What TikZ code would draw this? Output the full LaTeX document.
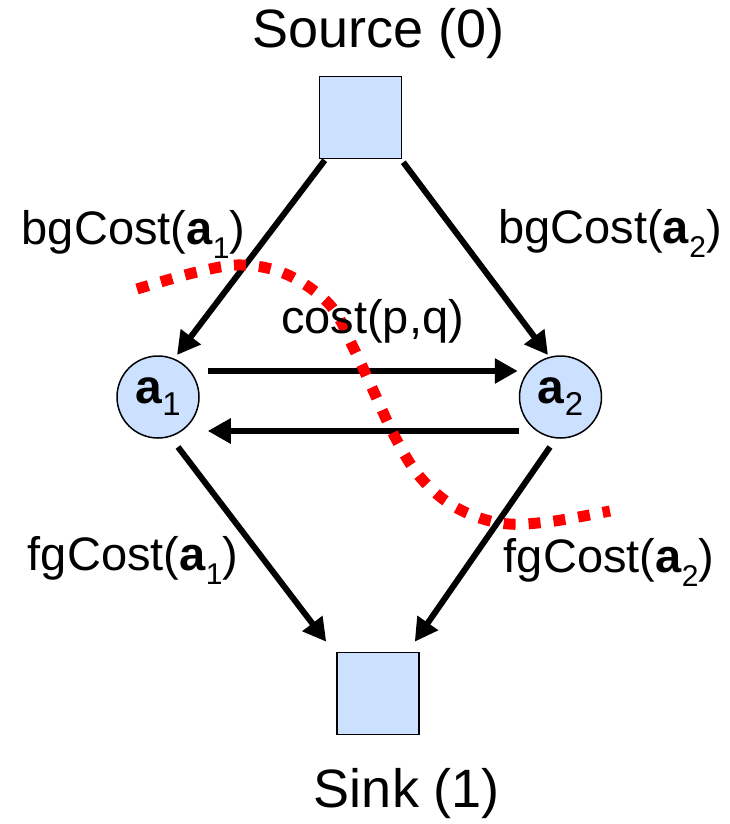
\documentclass[tikz,border=0pt]{standalone}
\usepackage{fontspec}
\setmainfont{Liberation Sans}
\usetikzlibrary{arrows.meta,calc}
\definecolor{nodefill}{RGB}{204,224,255}
\newcommand\lsub[1]{\raisebox{-14pt}{\fontsize{30}{30}\selectfont #1}}
\newcommand\csub[1]{\raisebox{-12pt}{\fontsize{33}{33}\selectfont #1}}
\begin{document}
\begin{tikzpicture}[x=1pt,y=-1pt,
  sq/.style={draw=black,line width=1.5pt,fill=nodefill,minimum size=82pt,inner sep=0pt},
  cn/.style={circle,draw=black,line width=1.5pt,fill=nodefill,minimum size=82pt,inner sep=0pt,font=\fontsize{48}{48}\selectfont},
  lbl/.style={anchor=base,inner sep=0pt,font=\fontsize{47}{47}\selectfont},
  ttl/.style={anchor=base,inner sep=0pt,font=\fontsize{54}{54}\selectfont},
  arr/.style={line width=6pt,-{Triangle[length=23pt,width=24pt]}},
  cut/.style={red,line width=11pt,dash pattern=on 12pt off 13pt}
]
\useasboundingbox (0,0) rectangle (729,824);
\node[sq] (src) at (360.5,117.5) {};
\node[sq] (snk) at (378,693.5) {};
\node[cn] (a1) at (158,397) {\textbf{a}\csub{1}};
\node[cn] (a2) at (560.5,397) {\textbf{a}\csub{2}};

\draw[arr] ($(src.south west)+(6,1)$) -- ($(a1.center)+(19,-42)$);
\draw[arr] ($(src.south east)+(1,3)$) -- ($(a2.center)+(-12.5,-42)$);
\draw[arr] ($(a1.east)+(8,-26)$) -- ($(a2.west)+(-1,-26)$);
\draw[arr] ($(a2.west)+(0,34)$) -- ($(a1.east)+(8,34)$);
\draw[arr] ($(a1.center)+(20,50)$) -- ($(snk.north west)+(-10,-10)$);
\draw[arr] ($(a2.center)+(-10.5,50)$) -- ($(snk.north east)+(-5,-10)$);

\draw[cut] plot[smooth,tension=0.6] coordinates {(137,289) (197,272) (243,265) (288,275) (330,305) (353,347) (373,390) (395,437) (420,477) (455,507) (500,523) (547,522) (610,511)};

\node[ttl] (srct) at (378.5,48) {Source (0)};
\node[ttl] (snkt) at (407,807) {Sink (1)};
\node[lbl] (bg1) at (133.5,244) {bgCost(\textbf{a}\lsub{1})};
\node[lbl] (bg2) at (610,243) {bgCost(\textbf{a}\lsub{2})};
\node[lbl] (fg1) at (133,570) {fgCost(\textbf{a}\lsub{1})};
\node[lbl] (fg2) at (609,572) {fgCost(\textbf{a}\lsub{2})};
\node[lbl] (cpq) at (372.5,333) {cost(p,q)};
\end{tikzpicture}
\end{document}
